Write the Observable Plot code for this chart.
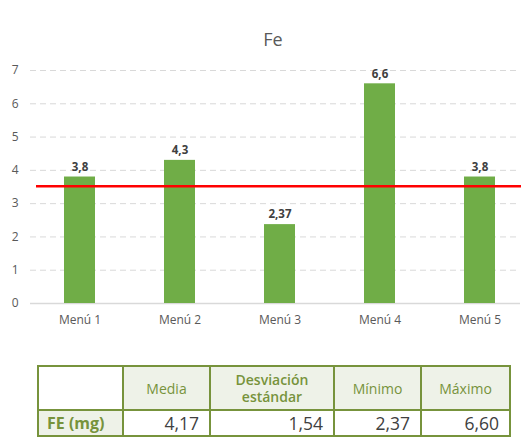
<!DOCTYPE html>
<html><head><meta charset="utf-8">
<script src="https://cdn.jsdelivr.net/npm/d3@7"></script>
<script src="https://cdn.jsdelivr.net/npm/@observablehq/plot@0.6"></script>
<style>
body{margin:0;background:#fff;font-family:"Open Sans",sans-serif;width:523px;height:437px;overflow:hidden;position:relative}
#title{position:absolute;left:0;top:27px;width:546px;text-align:center;font-size:18px;color:#595959}
#chart{position:absolute;left:0;top:60px}
table{position:absolute;left:37px;top:365px;border-collapse:collapse;width:472px;table-layout:fixed}
td,th{border:2px solid #77933c;padding:0 6px;font-family:"Open Sans",sans-serif}
th{background:#eef2e8;color:#77933c;font-size:14px;font-weight:400;height:42px;text-align:center;line-height:17px}
th.b{font-weight:600}
td{height:24px;font-size:17.5px;color:#404040;text-align:right;padding-right:10px}
td.lab{background:#eef2e8;color:#77933c;font-weight:700;font-size:16px;text-align:left;padding-left:8px}
</style></head><body>
<div id="title">Fe</div>
<div id="chart"></div>
<table id="tbl"></table>
<script>
const menus = ["Menú 1","Menú 2","Menú 3","Menú 4","Menú 5"];
const values = [3.8, 4.3, 2.37, 6.6, 3.8];
const barLabels = ["3,8","4,3","2,37","6,6","3,8"];
const meanLine = [3.52];
const yTicks = [0,1,2,3,4,5,6,7];
const statHeaders = ["Media","Desviación estándar","Mínimo","Máximo"];
const rowLabel = "FE (mg)";
const statValues = ["4,17","1,54","2,37","6,60"];

const data = menus.map((m,i)=>({menu:m, value:values[i], label:barLabels[i]}));

const chart = Plot.plot({
  width: 523, height: 280,
  marginLeft: 30, marginRight: 3, marginTop: 10, marginBottom: 37,
  style: {fontFamily: '"Open Sans", sans-serif', fontSize: "12px", color: "#595959", overflow: "visible"},
  x: {domain: menus, range: [29.5, 529.5], paddingInner: 0.69, paddingOuter: 0.345, label: null},
  y: {domain: [0,7], label: null},
  marks: [
    Plot.ruleY(yTicks.filter(d=>d>0), {stroke: "#d9d9d9", strokeDasharray: "6,4", strokeWidth: 1}),
    Plot.ruleY([0], {stroke: "#d9d9d9", strokeWidth: 1.5}),
    Plot.barY(data, {x: "menu", y: "value", fill: "#70ad47"}),
    Plot.ruleY(meanLine, {stroke: "#ff0000", strokeWidth: 2.5, insetLeft: 6, insetRight: -1}),
    Plot.text(data, {x: "menu", y: "value", text: "label", dy: -10, fontWeight: "bold", fill: "#404040", fontSize: 11.5}),
    Plot.axisY({ticks: yTicks, tickFormat: "d", tickSize: 0, tickPadding: 12, label: null, fill: "#595959", fontSize: 12}),
    Plot.axisX({tickSize: 0, tickPadding: 12, label: null, fill: "#595959", fontSize: 12})
  ]
});
document.getElementById("chart").appendChild(chart);

const tbl = document.getElementById("tbl");
const widths = [85, 87, 124, 87, 89];
const cg = document.createElement("colgroup");
widths.forEach(w=>{const c=document.createElement("col");c.style.width=w+"px";cg.appendChild(c);});
tbl.appendChild(cg);
const tr1 = document.createElement("tr");
const th0 = document.createElement("th"); th0.style.background="#fff"; tr1.appendChild(th0);
statHeaders.forEach(h=>{const th=document.createElement("th");th.textContent=h;if(h.startsWith("Desv"))th.className="b";tr1.appendChild(th);});
tbl.appendChild(tr1);
const tr2 = document.createElement("tr");
const tdl = document.createElement("td"); tdl.className="lab"; tdl.textContent=rowLabel; tr2.appendChild(tdl);
statValues.forEach(v=>{const td=document.createElement("td");td.textContent=v;tr2.appendChild(td);});
tbl.appendChild(tr2);
</script>
</body></html>
